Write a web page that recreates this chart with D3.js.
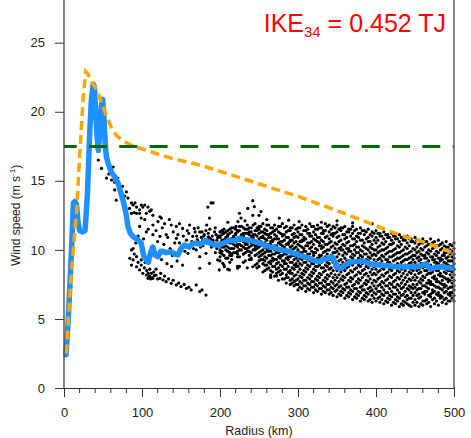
<!DOCTYPE html>
<html><head><meta charset="utf-8">
<script src="https://cdn.jsdelivr.net/npm/d3@7"></script>
<style>body{margin:0;background:#fff}svg{display:block}text{font-family:"Liberation Sans",Arial,Helvetica,sans-serif}</style>
</head><body><svg id="c" width="471" height="438"></svg>
<script>
// ---------------- data ----------------
const xTicks = [0, 100, 200, 300, 400, 500];
const xMinorTicks = [20,40,60,80,120,140,160,180,220,240,260,280,320,340,360,380,420,440,460,480];
const yTicks = [0, 5, 10, 15, 20, 25];
const galeSpeed = 17.49;
const titleMain = "IKE", titleSub = "34", titleRest = " = 0.452 TJ";

// azimuthal-mean wind profile (blue)
const meanR = [2.5,5,8,10,12,14,16,18,20,24,27,30,33,35,37.5,39,41,43,44,46,48,49.5,51,53,54.5,57,61,65,69.5,72,75.6,79,82,85,88.6,93,99,102,105.6,108,111,114,117,120.5,124,127,131,137.5,142,146,150,154.6,160,165,169.5,175,182,187,193,199,205,212,218,225,231,238,244,251,257,263,270,276,283,289,295,301.5,308,314,320,327,333,340,344,347,350,355.6,360,366,374,383,392,404,415,426,438,451,458,464,470,477,485,492,498];
const meanV = [2.4,4.5,8.0,10.5,13.4,13.5,13.3,12.0,11.4,11.3,11.4,14.0,18.5,20.8,22.0,21.8,19.5,17.8,17.2,18.5,20.5,20.9,19.8,17.5,16.7,16.2,15.6,15.3,14.8,14.3,13.6,12.8,11.7,11.2,10.95,10.8,10.5,9.6,9.27,9.1,9.8,10.2,9.6,9.5,9.9,9.9,9.8,9.87,9.7,9.63,10.1,10.35,10.2,10.45,10.48,10.4,10.7,10.5,10.35,10.35,10.5,10.7,10.65,10.84,10.75,10.7,10.6,10.48,10.35,10.23,10.15,10.04,9.95,9.87,9.75,9.63,9.5,9.39,9.25,9.15,9.3,9.4,9.5,9.15,8.7,8.67,8.9,9.1,9.15,9.2,9.0,8.9,8.85,8.78,8.78,8.78,8.85,9.0,8.6,8.75,8.78,8.7,8.67];

// model wind profile (orange dashed)
const modelR = [3,8,14,16,20.5,24.7,28,31,35,42,50,55,61,67,74,82,89,106,118,140,174,216,260,301,340,366,400,430,465,500];
const modelV = [2.5,7.2,11.4,12.65,17.2,21.1,22.9,22.7,22.2,21.6,20.4,19.6,18.8,18.3,17.96,17.7,17.5,17.2,16.98,16.6,16.15,15.4,14.6,13.85,13.05,12.5,11.75,11.08,10.5,9.75];

// outer-band samples, grid A: radii and wind speeds along 12 tracks
const bandRadii = [200,205,210,215,220,225,230,235,240,245,250,255,260,265,270,275,280,285,290,295,300,305,310,315,320,325,330,335,340,345,350,355,360,365,370,375,380,385,390,395,400,405,410,415,420,425,430,435,440,445,450,455,460,465,470,475,480,485,490,495,500];
const track0 = [11.3,11.5,11.4,11.6,11.5,11.7,11.6,11.8,11.6,11.9,11.7,11.9,11.8,11.6,11.8,11.7,11.9,11.7,11.6,11.8,11.6,11.8,11.7,11.9,11.7,11.8,11.6,11.9,11.8,11.7,11.8,11.6,11.7,11.5,11.7,11.5,11.6,11.4,11.5,11.3,11.4,11.2,11.3,11.1,11.2,11.0,11.1,10.9,11.0,10.8,10.9,10.7,10.8,10.6,10.8,10.6,10.7,10.5,10.6,10.4,10.5];
const track1 = [11.0,11.2,11.1,11.3,11.2,11.4,11.2,11.5,11.3,11.4,11.5,11.3,11.4,11.2,11.4,11.3,11.1,11.3,11.4,11.2,11.3,11.1,11.4,11.2,11.3,11.5,11.2,11.4,11.3,11.2,11.3,11.4,11.1,11.3,11.2,11.0,11.2,11.1,10.9,11.0,10.9,11.0,10.8,10.9,10.7,10.8,10.6,10.7,10.5,10.6,10.5,10.4,10.5,10.3,10.4,10.2,10.3,10.1,10.2,10.0,10.1];
const track2 = [10.9,10.7,11.0,10.8,11.1,10.9,11.0,11.2,11.0,11.1,11.2,11.0,11.1,10.9,11.1,10.8,11.0,10.9,10.7,10.9,10.9,10.7,10.8,11.0,10.8,10.9,10.7,10.9,10.8,11.0,10.9,10.7,10.8,10.6,10.8,10.6,10.7,10.5,10.6,10.4,10.5,10.3,10.4,10.2,10.4,10.1,10.2,10.0,10.1,9.9,10.0,9.9,10.0,9.8,9.9,9.7,9.8,9.6,9.8,9.7,9.7];
const track3 = [10.5,10.7,10.6,10.8,10.6,10.7,10.9,10.7,10.8,10.6,10.8,10.9,10.7,10.6,10.8,10.5,10.6,10.4,10.6,10.5,10.4,10.6,10.3,10.5,10.4,10.6,10.3,10.4,10.5,10.3,10.4,10.2,10.3,10.1,10.3,10.2,10.0,10.2,10.0,10.1,10.0,9.9,10.0,9.8,9.9,9.7,9.8,9.6,9.7,9.5,9.6,9.5,9.6,9.4,9.5,9.3,9.4,9.3,9.4,9.2,9.4];
const track4 = [10.3,10.4,10.2,10.5,10.3,10.4,10.6,10.4,10.5,10.3,10.5,10.4,10.2,10.4,10.3,10.1,10.3,10.0,10.2,10.1,10.0,10.2,9.9,10.1,9.8,10.0,10.1,9.9,10.0,9.8,9.9,10.0,9.8,9.9,9.7,9.8,9.6,9.7,9.5,9.6,9.6,9.4,9.5,9.3,9.5,9.3,9.4,9.2,9.3,9.1,9.1,9.2,9.0,9.1,8.9,9.1,9.0,8.9,9.0,8.8,9.0];
const track5 = [10.0,10.2,9.9,10.1,10.3,10.0,10.2,10.1,10.3,10.1,10.2,10.0,10.1,9.9,10.0,9.8,9.9,9.7,9.8,9.6,9.6,9.8,9.5,9.7,9.6,9.4,9.6,9.5,9.3,9.5,9.5,9.3,9.4,9.2,9.4,9.2,9.3,9.1,9.2,9.0,9.1,9.0,8.9,9.1,8.9,8.8,8.9,8.7,8.8,8.6,8.7,8.6,8.7,8.5,8.7,8.6,8.5,8.7,8.6,8.5,8.6];
const track6 = [9.8,9.6,9.9,9.7,9.8,10.0,9.7,9.9,9.8,10.0,9.8,9.7,9.9,9.6,9.7,9.5,9.6,9.4,9.5,9.3,9.2,9.3,9.1,9.2,9.0,9.2,9.1,8.9,9.0,9.1,9.0,8.9,9.0,8.8,8.9,8.7,8.8,8.6,8.7,8.6,8.6,8.5,8.6,8.4,8.5,8.3,8.4,8.3,8.2,8.3,8.2,8.3,8.1,8.2,8.3,8.1,8.2,8.1,8.3,8.2,8.2];
const track7 = [9.5,null,9.4,9.6,null,9.5,9.7,null,9.4,9.6,9.5,9.3,9.4,9.2,9.3,9.1,9.2,9.0,9.1,8.9,8.8,8.9,8.7,8.8,8.6,8.8,8.7,8.5,8.6,8.5,8.5,8.4,8.5,8.3,8.4,8.2,8.3,8.2,8.1,8.2,8.2,8.0,8.1,7.9,8.0,7.8,7.9,7.8,7.7,7.8,7.8,7.7,7.8,7.6,7.7,7.9,7.7,7.8,7.9,7.8,7.8];
const track8 = [9.2,null,null,9.3,null,null,9.1,null,9.3,null,9.2,9.0,8.9,9.0,8.8,8.7,8.8,8.6,8.5,8.6,8.4,8.3,8.4,8.2,8.3,8.1,8.2,8.0,8.1,8.0,8.0,7.9,8.0,7.8,7.9,7.7,7.8,7.6,7.7,7.6,7.7,7.5,7.6,7.4,7.5,7.3,7.4,7.3,7.2,7.3,7.3,7.2,7.4,7.3,7.5,7.4,7.3,7.5,7.4,7.3,7.4];
const track9 = [null,8.9,null,null,null,8.8,null,null,null,8.9,8.8,null,8.6,8.5,null,8.4,8.3,8.2,8.3,8.1,7.9,8.0,7.8,7.9,7.7,7.8,7.6,7.7,7.5,7.6,7.5,7.4,7.5,7.3,7.4,7.2,7.3,7.1,7.2,7.1,7.2,7.0,7.1,6.9,7.0,6.8,6.9,6.8,6.7,6.9,6.9,6.8,6.9,7.0,6.8,7.0,6.9,7.1,7.0,6.9,7.1];
const track10 = [null,null,8.6,null,null,null,null,8.7,null,null,null,8.4,null,8.2,8.1,null,7.9,8.0,7.8,7.7,7.5,7.6,7.4,7.5,7.3,7.4,7.2,7.3,7.1,7.2,7.1,7.0,7.1,6.9,7.0,6.8,6.9,6.7,6.8,6.7,6.8,6.6,6.7,6.5,6.6,6.4,6.5,6.3,6.4,6.5,6.4,6.5,6.3,6.4,6.6,6.5,6.7,6.6,6.5,6.7,6.7];
const track11 = [null,null,null,null,null,null,null,null,null,null,null,null,null,8.0,null,7.8,null,7.6,7.5,7.4,7.1,7.2,7.0,7.1,6.9,7.0,6.8,6.9,6.8,6.7,6.6,6.7,6.5,6.6,6.4,6.5,6.3,6.4,6.3,6.2,6.3,6.2,6.1,6.2,6.0,6.1,5.9,6.0,6.1,5.9,6.0,5.9,6.0,6.1,5.9,6.1,6.0,6.2,6.1,6.3,6.3];
const bandTracks = [track0,track1,track2,track3,track4,track5,track6,track7,track8,track9,track10,track11];

// outer-band samples, grid B (staggered radii): 11 tracks
const bandRadiiB = [202.5,207.5,212.5,217.5,222.5,227.5,232.5,237.5,242.5,247.5,252.5,257.5,262.5,267.5,272.5,277.5,282.5,287.5,292.5,297.5,302.5,307.5,312.5,317.5,322.5,327.5,332.5,337.5,342.5,347.5,352.5,357.5,362.5,367.5,372.5,377.5,382.5,387.5,392.5,397.5,402.5,407.5,412.5,417.5,422.5,427.5,432.5,437.5,442.5,447.5,452.5,457.5,462.5,467.5,472.5,477.5,482.5,487.5,492.5,497.5];
const trackB0 = [11.4,11.3,11.5,11.6,11.4,11.7,11.5,11.6,11.8,11.6,11.7,11.5,11.8,11.6,11.5,11.7,11.6,11.4,11.6,11.5,11.6,11.4,11.5,11.7,11.5,11.6,11.4,11.7,11.5,11.6,11.5,11.6,11.3,11.5,11.4,11.2,11.4,11.3,11.1,11.2,11.2,11.0,11.1,10.9,11.0,10.8,10.9,10.7,10.8,10.6,10.7,10.5,10.6,10.4,10.5,10.3,10.4,10.3,10.2,10.3];
const trackB1 = [11.1,10.9,11.2,11.0,11.3,11.1,11.2,11.3,11.1,11.4,11.3,11.2,11.1,11.3,11.0,11.2,11.1,10.9,11.1,11.0,11.1,10.9,11.2,11.0,11.1,10.9,11.2,11.0,11.1,11.2,11.0,11.1,10.9,11.0,10.8,10.9,10.7,10.8,10.6,10.7,10.7,10.5,10.6,10.4,10.5,10.3,10.4,10.2,10.3,10.1,10.2,10.1,10.2,10.0,10.1,9.9,10.0,9.8,9.9,9.9];
const trackB2 = [10.7,10.8,10.6,10.9,10.8,11.0,10.8,11.1,10.9,11.0,10.9,10.8,10.9,10.7,10.8,10.6,10.7,10.5,10.7,10.6,10.6,10.7,10.5,10.6,10.7,10.5,10.6,10.4,10.6,10.5,10.6,10.4,10.5,10.3,10.4,10.2,10.3,10.1,10.2,10.0,10.2,10.0,10.1,9.9,10.0,9.8,9.9,9.7,9.8,9.6,9.8,9.7,9.6,9.7,9.5,9.6,9.4,9.6,9.5,9.5];
const trackB3 = [10.4,10.6,10.5,10.6,10.4,10.7,10.5,10.6,10.8,10.6,10.6,10.5,10.4,10.6,10.3,10.4,10.2,10.4,10.3,10.2,10.3,10.1,10.3,10.2,10.1,10.3,10.2,10.0,10.2,10.1,10.1,10.0,10.1,9.9,10.0,9.8,9.9,9.7,9.8,9.7,9.8,9.6,9.7,9.5,9.6,9.4,9.5,9.3,9.4,9.3,9.4,9.3,9.4,9.2,9.3,9.1,9.2,9.1,9.2,9.2];
const trackB4 = [10.2,10.3,10.1,10.4,10.2,10.3,10.4,10.2,10.4,10.3,10.3,10.2,10.0,10.2,10.0,9.9,10.1,9.9,10.0,9.8,9.8,9.9,9.7,9.9,9.8,9.6,9.8,9.7,9.6,9.8,9.7,9.6,9.7,9.5,9.6,9.4,9.5,9.3,9.4,9.3,9.3,9.2,9.3,9.1,9.2,9.0,9.1,8.9,9.0,8.9,8.9,9.0,8.8,8.9,8.7,8.9,8.8,8.7,8.9,8.8];
const trackB5 = [9.9,10.0,9.8,10.1,9.9,10.0,10.1,9.9,10.0,10.1,9.9,9.8,9.9,9.7,9.8,9.6,9.7,9.5,9.6,9.4,9.4,9.5,9.3,9.4,9.2,9.4,9.3,9.1,9.3,9.2,9.2,9.1,9.2,9.0,9.1,8.9,9.0,8.8,8.9,8.8,8.9,8.7,8.8,8.6,8.7,8.5,8.6,8.5,8.4,8.5,8.5,8.4,8.5,8.3,8.4,8.5,8.3,8.4,8.5,8.4];
const trackB6 = [9.7,null,9.6,9.8,9.7,null,9.8,9.6,null,9.7,9.6,9.5,9.6,9.4,9.3,9.4,9.2,9.3,9.1,9.0,9.0,9.1,8.9,9.0,8.8,8.9,8.7,8.8,8.7,8.8,8.7,8.6,8.7,8.5,8.6,8.4,8.5,8.3,8.4,8.3,8.4,8.2,8.3,8.1,8.2,8.0,8.1,8.0,7.9,8.0,8.0,7.9,8.0,7.8,8.0,7.9,8.1,8.0,7.9,8.0];
const trackB7 = [null,9.4,null,null,9.5,null,null,9.3,null,null,9.3,9.2,9.1,9.2,9.0,8.9,9.0,8.8,8.7,8.8,8.6,8.5,8.6,8.4,8.5,8.3,8.4,8.2,8.3,8.2,8.2,8.1,8.2,8.0,8.1,7.9,8.0,7.8,7.9,7.8,7.9,7.7,7.8,7.6,7.7,7.5,7.6,7.5,7.4,7.5,7.5,7.6,7.4,7.6,7.5,7.7,7.6,7.5,7.7,7.6];
const trackB8 = [null,null,9.1,null,null,null,9.2,null,null,9.0,null,8.9,8.7,8.8,8.6,8.5,8.6,8.4,8.3,8.2,8.1,8.2,8.0,8.1,7.9,8.0,7.8,7.9,7.7,7.8,7.7,7.8,7.6,7.7,7.5,7.6,7.4,7.5,7.3,7.4,7.4,7.3,7.4,7.2,7.3,7.1,7.2,7.0,7.1,7.2,7.1,7.2,7.0,7.2,7.1,7.3,7.2,7.3,7.2,7.3];
const trackB9 = [null,null,null,null,8.8,null,null,null,null,8.7,null,8.5,null,8.4,8.3,8.2,null,8.0,7.9,7.8,7.7,7.8,7.6,7.7,7.5,7.6,7.4,7.5,7.3,7.4,7.3,7.2,7.3,7.1,7.2,7.0,7.1,6.9,7.0,6.9,7.0,6.8,6.9,6.7,6.8,6.6,6.7,6.6,6.5,6.7,6.7,6.6,6.8,6.7,6.9,6.8,6.7,6.9,6.8,6.9];
const trackB10 = [null,null,null,null,null,null,null,null,null,null,null,null,null,null,8.1,null,7.9,null,7.6,7.5,7.3,7.4,7.2,7.3,7.1,7.2,7.0,7.1,6.9,7.0,6.8,6.9,6.7,6.8,6.6,6.7,6.5,6.6,6.4,6.5,6.5,6.4,6.3,6.4,6.2,6.3,6.1,6.2,6.0,6.2,6.2,6.1,6.3,6.2,6.4,6.3,6.5,6.4,6.3,6.5];
const bandTracksB = [trackB0,trackB1,trackB2,trackB3,trackB4,trackB5,trackB6,trackB7,trackB8,trackB9,trackB10];

// inner / scattered samples [radius, speed]
const scatterPairs = [
[44,16.5],[48,15.9],[54.5,15.2],[57.6,15.5],[61,15.06],[63,16.0],[65,14.9],[65,14.34],[67,13.6],[69,15.2],[72,14.4],[75,14.6],[78,13.9],[80,14.2],[82,13.75],[84,13.0],[86.5,13.4],[86.5,12.65],[88.6,13.25],[90,12.7],[91,13.4],[93,13.1],[93,12.65],[97,12.9],[97,12.65],[99,13.25],[101,13.1],[103.5,12.2],[103.5,13.25],[105.6,12.65],[107.7,13.1],[110,12.8],[112,12.9],[114,12.5],[114,11.8],[99,12.3],[120.5,12.05],[123,12.4],[124.8,12.3],[129,11.9],[135,12.2],[137.5,11.8],[144,11.7],[148,11.9],[152,11.55],[161,11.8],[167,11.55],[174,11.3],[182,11.4],[186.5,12.3],[188.6,13.4],[184.5,13.1],[191,13.4],[195,11.1],[97,11.7],[105.6,11.3],[114,11.1],[123,10.98],[131,11.1],[144,10.84],[157,10.7],[165,10.98],[178,10.7],[186.5,10.84],
[84.3,9.39],[86.5,10.0],[88.6,10.1],[88.6,9.27],[86.5,8.9],[90,9.7],[93,9.51],[93,8.78],[95,9.1],[97,8.55],[99,9.27],[99,8.9],[101,8.3],[101,9.6],[103,8.7],[104,9.1],[105.6,8.18],[106,8.5],[107.7,7.94],[108,8.3],[109,8.1],[110,8.06],[110,8.6],[111,7.9],[112,8.3],[113,8.0],[114,7.94],[115,8.4],[116,8.15],[118,8.18],[118,8.6],[120,7.9],[123,7.94],[124,8.3],[127,7.82],[129,8.1],[131,7.7],[134,7.9],[137.5,7.58],[140,7.8],[144,7.46],[147,7.6],[150,7.34],[154,7.5],[157,7.22],[160,7.3],[163,7.1],[169.5,7.46],[174,6.98],[177,7.1],[182,6.73],
[92,10.5],[95,11.0],[102,10.8],[108,11.5],[112,10.2],[118,11.4],[120,10.6],[126,11.6],[128,10.4],[133,10.9],[136,10.1],[140,11.3],[142,10.5],[146,11.1],[150,10.2],[153,11.0],[155,9.9],[159,9.75],[160,11.2],[162,10.4],[166,10.1],[169.5,10.0],[170,11.0],[172,10.6],[174,9.51],[174,8.67],[176,10.9],[178,10.3],[180,11.1],[182,9.75],[183,10.5],[185,11.2],[186.5,9.03],[188,10.8],[189,10.2],[190,11.0],[192,10.5],[193,11.3],[194,9.8],[196,10.7],[197,9.27],[198,11.0],[199,10.4],[197,10.9],[185,10.95],[181,10.6],[177,11.3],[171,10.75],[168,11.3],
[125,9.3],[132,9.0],[138,8.8],[145,9.2],[152,8.9],[139,9.6],[164,10.6],[175,10.2],[179,11.0],[187,11.5],[191,10.7],[194,11.6],[196,10.1],[183,11.8],[172,11.6],[158,11.4],[148,10.5],
[203.6,11.3],[205.6,8.78],[203.6,9.03],[199,8.55],[212,8.55],[222.6,8.67],[242,8.78],[265,8.06],[220.5,11.7],[223,12.05],[225,12.65],[227,12.3],[235.6,13.0],[242,13.56],[244,13.13],[242,12.5],[250,12.5],[252.5,12.77],[276,12.3],[301.5,12.05],[210,12.0],[232,12.1],[260,12.2],[288,12.15],[330,12.0],[350,12.1],[370,11.95],[395,11.9]
];

// ---------------- drawing ----------------
const svg = d3.select("#c");
const x = d3.scaleLinear().domain([0, 500]).range([64, 454]);
const y = d3.scaleLinear().domain([0, 25]).range([388, 42.7]);
const plotTop = 0;

const g = svg.append("g");

// scatter points
const pts = [];
bandTracks.forEach(t => t.forEach((v, i) => { if (v != null) pts.push([bandRadii[i], v]); }));
bandTracksB.forEach(t => t.forEach((v, i) => { if (v != null) pts.push([bandRadiiB[i], v]); }));
scatterPairs.forEach(p => pts.push(p));
g.append("g").selectAll("circle").data(pts).join("circle")
  .attr("cx", d => x(d[0])).attr("cy", d => y(d[1])).attr("r", 1.6).attr("fill", "#000");

// blue mean profile
const line = d3.line().x(d => x(d[0])).y(d => y(d[1]));
g.append("path").datum(meanR.map((r, i) => [r, meanV[i]]))
  .attr("d", line).attr("fill", "none").attr("stroke", "#1e90ff")
  .attr("stroke-width", 5.5).attr("stroke-linejoin", "round").attr("stroke-linecap", "round");

// orange model
g.append("path").datum(modelR.map((r, i) => [r, modelV[i]]))
  .attr("d", line).attr("fill", "none").attr("stroke", "#ffa500")
  .attr("stroke-width", 3.5).attr("stroke-dasharray", "9,5");

// green gale line
g.append("line").attr("x1", x(0)).attr("x2", x(500)).attr("y1", y(galeSpeed)).attr("y2", y(galeSpeed))
  .attr("stroke", "#006a00").attr("stroke-width", 3).attr("stroke-dasharray", "18,12.3").attr("stroke-dashoffset", 5.3);

// axes
const axCol = "#333";
const xAxis = d3.axisBottom(x).tickValues(xTicks).tickSize(9).tickPadding(11).tickSizeOuter(0);
const gx = svg.append("g").attr("transform", `translate(0,${y(0)})`).call(xAxis);
gx.select(".domain").attr("stroke", axCol);
gx.selectAll(".tick line").attr("stroke", axCol);
gx.selectAll("text").attr("font-size", 13).attr("fill", "#222").attr("font-family", '"Liberation Sans",Arial,sans-serif');
svg.append("g").selectAll("line").data(xMinorTicks).join("line")
  .attr("x1", d => x(d)).attr("x2", d => x(d)).attr("y1", y(0)).attr("y2", y(0) + 5)
  .attr("stroke", axCol);

const yAxis = d3.axisLeft(y).tickValues(yTicks).tickSize(9).tickPadding(10).tickSizeOuter(0);
const gy = svg.append("g").attr("transform", `translate(${x(0)},0)`).call(yAxis);
gy.select(".domain").remove();
gy.selectAll(".tick line").attr("stroke", axCol);
gy.selectAll("text").attr("font-size", 13).attr("fill", "#222").attr("font-family", '"Liberation Sans",Arial,sans-serif');

// spines
svg.append("line").attr("x1", x(0)).attr("x2", x(0)).attr("y1", plotTop).attr("y2", y(0)).attr("stroke", "#444").attr("stroke-width", 1.3);
svg.append("line").attr("x1", x(500)).attr("x2", x(500)).attr("y1", plotTop).attr("y2", y(0)).attr("stroke", "#666").attr("stroke-width", 1.6);

// axis titles
svg.append("text").attr("x", (x(0) + x(500)) / 2).attr("y", 435).attr("text-anchor", "middle")
  .attr("font-size", 12.5).attr("fill", "#222").text("Radius (km)");
const yt = svg.append("text").attr("transform", `translate(20,${(y(0) + y(25)) / 2}) rotate(-90)`)
  .attr("text-anchor", "middle").attr("font-size", 12).attr("fill", "#222");
yt.append("tspan").text("Wind speed (m s");
yt.append("tspan").attr("font-size", 8).attr("dy", -5).text("-1");
yt.append("tspan").attr("dy", 5).text(")");

// title
const tt = svg.append("text").attr("x", 446).attr("y", 31.5).attr("text-anchor", "end")
  .attr("font-size", 25).attr("fill", "#ff0000");
tt.append("tspan").text(titleMain);
tt.append("tspan").attr("font-size", 15).attr("dy", 5).text(titleSub);
tt.append("tspan").attr("dy", -5).text(titleRest);
</script></body></html>
